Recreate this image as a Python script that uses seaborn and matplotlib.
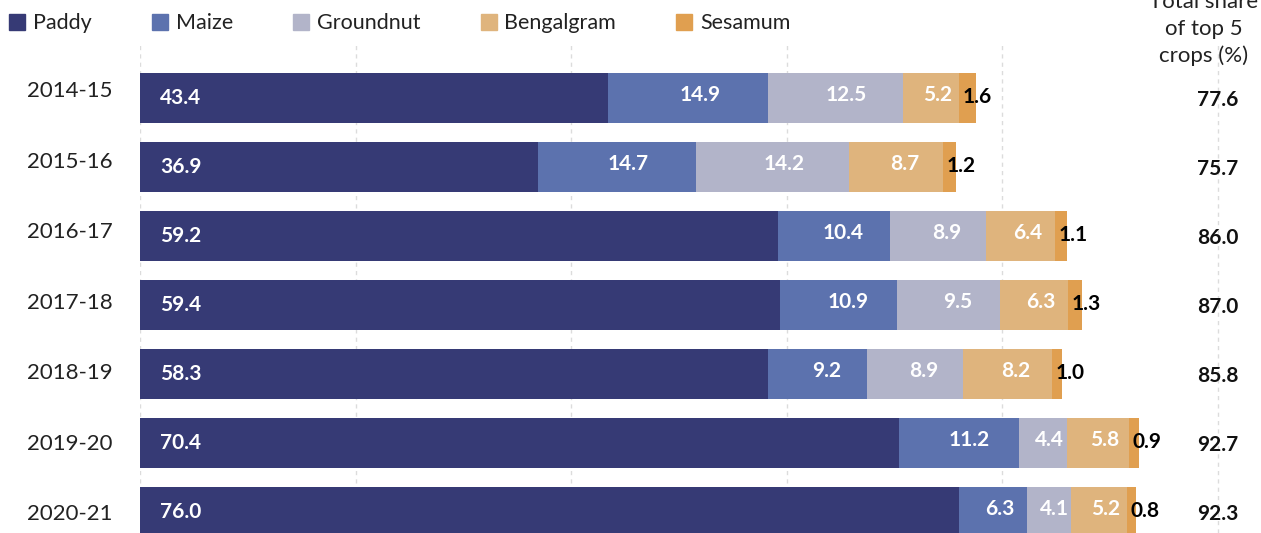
import numpy as np
import pandas as pd
import matplotlib
matplotlib.use('Agg')
import matplotlib.pyplot as plt
import matplotlib.patches as mpatches
import seaborn as sns

years = ['2014-15', '2015-16', '2016-17', '2017-18', '2018-19', '2019-20', '2020-21']
crops = ['Paddy', 'Maize', 'Groundnut', 'Bengalgram', 'Sesamum']
paddy = [43.4, 36.9, 59.2, 59.4, 58.3, 70.4, 76.0]
maize = [14.9, 14.7, 10.4, 10.9, 9.2, 11.2, 6.3]
groundnut = [12.5, 14.2, 8.9, 9.5, 8.9, 4.4, 4.1]
bengalgram = [5.2, 8.7, 6.4, 6.3, 8.2, 5.8, 5.2]
sesamum = [1.6, 1.2, 1.1, 1.3, 1.0, 0.9, 0.8]
totals = ['77.6', '75.7', '86.0', '87.0', '85.8', '92.7', '92.3']
colors = ['#363a75', '#5c72ae', '#b2b4c9', '#dfb47d', '#e09f50']

sns.set_style('white')
plt.rcParams['font.family'] = ['Lato', 'DejaVu Sans']

df = pd.DataFrame({'Year': years, 'Paddy': paddy, 'Maize': maize,
                   'Groundnut': groundnut, 'Bengalgram': bengalgram,
                   'Sesamum': sesamum})
cum = df[crops].cumsum(axis=1)
left = cum - df[crops]

fig = plt.figure(figsize=(12.61, 5.33), dpi=100)
ax = fig.add_axes([140 / 1261, 0, 1121 / 1261, 1 - 45 / 533])

# stack by drawing the cumulative totals from the largest down
for c, col in reversed(list(zip(crops, colors))):
    sns.barplot(x=cum[c], y=df['Year'], orient='h', color=col, width=0.72,
                saturation=1, linewidth=0, edgecolor='none', ax=ax, zorder=2)

ax.set_xlim(0, 1121 / 10.775)
ax.set_ylim(6.30, -0.77)
ax.set_xticks([0, 20, 40, 60, 80, 100])
ax.set_xticklabels([])
ax.tick_params(axis='x', length=0)
# year labels sit a little above the bars near the top
n = len(years)
ax.set_yticks(np.arange(n) - 0.13 * (n - 1 - np.arange(n)) / (n - 1))
ax.set_yticklabels(years)
ax.tick_params(axis='y', length=0, pad=19.5, labelsize=16, labelcolor='#222222')
ax.grid(axis='x', color='#dcdcdc', linestyle=(0, (3, 3)), linewidth=1, zorder=0)
ax.set_axisbelow(True)
ax.set_xlabel('')
ax.set_ylabel('')
for s in ax.spines.values():
    s.set_visible(False)

for i in range(n):
    ax.text(1.85, i, '%.1f' % paddy[i], color='white', fontsize=15,
            fontweight='bold', ha='left', va='center')
    for c in ['Maize', 'Groundnut', 'Bengalgram']:
        w = df[c][i]
        x = left[c][i] + 0.55 * w + 0.35
        ax.text(x, i - 0.05, '%.1f' % w, color='white', fontsize=15,
                fontweight='bold', ha='center', va='center')
    ax.text(left['Sesamum'][i] + 0.35, i - 0.02, '%.1f' % sesamum[i], color='black',
            fontsize=15, fontweight='bold', ha='left', va='center')
    ax.text(100, i + 0.03, totals[i], color='#111111', fontsize=15,
            fontweight='bold', ha='center', va='center')

fig.text(1204 / 1261, 1 - 29 / 533, 'Total share\nof top 5\ncrops (%)',
         ha='center', va='center', fontsize=16, color='#222222', linespacing=1.4)

handles = [mpatches.Patch(color=col, label=c) for c, col in zip(crops, colors)]
fig.legend(handles=handles, loc='upper left', bbox_to_anchor=(-0.003, 0.999), ncol=5,
           frameon=False, fontsize=15.5, handlelength=0.75, handleheight=0.75,
           handletextpad=0.35, columnspacing=2.8, borderaxespad=0.2,
           labelcolor='#222222')

plt.savefig('out.png', dpi=100)
